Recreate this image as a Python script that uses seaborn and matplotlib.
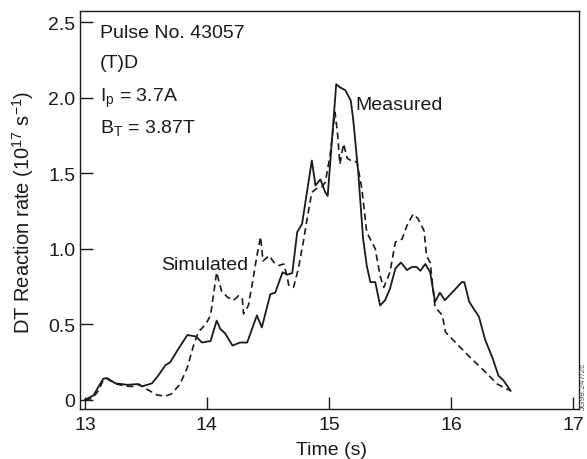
import pandas as pd
import matplotlib
matplotlib.use('Agg')
import matplotlib.pyplot as plt
import seaborn as sns

time_measured = [13.00, 13.07, 13.15, 13.18, 13.25, 13.35, 13.43, 13.47, 13.55, 13.60,
                 13.66, 13.70, 13.76, 13.84, 13.91, 13.96, 14.03, 14.08, 14.11, 14.15,
                 14.21, 14.27, 14.33, 14.41, 14.45, 14.52, 14.56, 14.62, 14.66, 14.70,
                 14.74, 14.78, 14.86, 14.89, 14.93, 14.97, 14.99, 15.06, 15.09, 15.135,
                 15.18, 15.20, 15.24, 15.28, 15.31, 15.34, 15.38, 15.42, 15.46, 15.50,
                 15.545, 15.59, 15.64, 15.68, 15.72, 15.75, 15.79, 15.83, 15.87, 15.91,
                 15.95, 16.09, 16.11, 16.15, 16.23, 16.28, 16.34, 16.39, 16.43, 16.49]
rate_measured = [0.00, 0.03, 0.14, 0.145, 0.11, 0.10, 0.105, 0.09, 0.11, 0.16,
                 0.23, 0.25, 0.33, 0.43, 0.42, 0.38, 0.39, 0.525, 0.47, 0.44,
                 0.36, 0.38, 0.38, 0.56, 0.48, 0.70, 0.71, 0.845, 0.83, 0.84,
                 1.11, 1.165, 1.585, 1.42, 1.46, 1.375, 1.35, 2.09, 2.07, 2.05,
                 1.98, 1.85, 1.51, 1.07, 0.89, 0.78, 0.78, 0.625, 0.66, 0.735,
                 0.87, 0.91, 0.86, 0.88, 0.88, 0.855, 0.90, 0.845, 0.65, 0.71,
                 0.66, 0.78, 0.78, 0.65, 0.55, 0.40, 0.28, 0.16, 0.13, 0.06]

time_simulated = [13.00, 13.06, 13.11, 13.15, 13.18, 13.26, 13.35, 13.41, 13.44, 13.51,
                  13.59, 13.66, 13.71, 13.78, 13.84, 13.89, 13.93, 13.99, 14.03, 14.08,
                  14.12, 14.17, 14.22, 14.26, 14.29, 14.30, 14.34, 14.37, 14.41, 14.44,
                  14.46, 14.51, 14.55, 14.59, 14.63, 14.66, 14.67, 14.71, 14.75, 14.79,
                  14.83, 14.86, 14.90, 14.94, 14.97, 15.01, 15.05, 15.07, 15.09, 15.12,
                  15.15, 15.18, 15.23, 15.27, 15.31, 15.38, 15.42, 15.45, 15.50, 15.545,
                  15.60, 15.64, 15.69, 15.73, 15.78, 15.80, 15.83, 15.87, 15.93, 15.955,
                  16.05, 16.16, 16.27, 16.38, 16.49]
rate_simulated = [0.00, 0.01, 0.06, 0.13, 0.14, 0.105, 0.09, 0.09, 0.105, 0.07,
                  0.033, 0.025, 0.04, 0.105, 0.215, 0.36, 0.45, 0.50, 0.56, 0.845,
                  0.72, 0.68, 0.66, 0.69, 0.67, 0.57, 0.625, 0.76, 0.955, 1.08,
                  0.92, 0.955, 0.91, 0.89, 0.90, 0.81, 0.76, 0.745, 0.87, 1.045,
                  1.24, 1.375, 1.40, 1.41, 1.44, 1.62, 1.905, 1.77, 1.56, 1.695,
                  1.60, 1.585, 1.575, 1.40, 1.11, 1.00, 0.82, 0.745, 0.845, 1.045,
                  1.065, 1.155, 1.23, 1.20, 1.12, 0.955, 0.91, 0.615, 0.56, 0.45,
                  0.37, 0.28, 0.195, 0.105, 0.06]

x_ticks = [13, 14, 15, 16, 17]
y_ticks = [0, 0.5, 1.0, 1.5, 2.0, 2.5]
y_tick_labels = ['0', '0.5', '1.0', '1.5', '2.0', '2.5']

sns.set_style('ticks')
plt.rcParams['font.family'] = ['Liberation Sans', 'DejaVu Sans']
plt.rcParams['mathtext.fontset'] = 'custom'
plt.rcParams['mathtext.rm'] = 'Liberation Sans'
plt.rcParams['mathtext.it'] = 'Liberation Sans'

ink = '#1a1a1a'

fig = plt.figure(figsize=(5.87, 4.6), dpi=100)
ax = fig.add_axes([0.1363, 0.1087, 0.8501, 0.8659])

meas = pd.DataFrame({'time': time_measured, 'rate': rate_measured})
sim = pd.DataFrame({'time': time_simulated, 'rate': rate_simulated})

sns.lineplot(data=meas, x='time', y='rate', ax=ax, color=ink, lw=1.3,
             estimator=None, sort=False)
sns.lineplot(data=sim, x='time', y='rate', ax=ax, color=ink, lw=1.2,
             estimator=None, sort=False)
ax.lines[-1].set_dashes((4, 2.5))

ax.set_xlim(12.96, 17.05)
ax.set_ylim(-0.06, 2.577)
ax.set_xticks(x_ticks)
ax.set_yticks(y_ticks)
ax.set_yticklabels(y_tick_labels)
ax.tick_params(direction='in', length=9, width=1, labelsize=14, colors=ink)
ax.tick_params(axis='x', pad=5)
ax.tick_params(axis='y', pad=3.5)
for s in ax.spines.values():
    s.set_linewidth(1)
    s.set_color(ink)

ax.set_xlabel('Time (s)', fontsize=14, color=ink)
ax.xaxis.set_label_coords(0.503, -0.08)
ax.set_ylabel('DT Reaction rate (10$^{17}$ s$^{-1}$)', fontsize=14.5, color=ink)
ax.yaxis.set_label_coords(-0.088, 0.495)

fs = 14
info_lines = [('Pulse No. 43057', 38), ('(T)D', 68),
              ('I$_\\mathrm{p}$ = 3.7A', 102), ('B$_\\mathrm{T}$ = 3.87T', 133)]
for txt, yb in info_lines:
    fig.text(100 / 587, 1 - yb / 460, txt, fontsize=fs, color=ink)

fig.text(355 / 587, 1 - 110 / 460, 'Measured', fontsize=fs, color=ink)
fig.text(161 / 587, 1 - 270 / 460, 'Simulated', fontsize=fs, color=ink)
fig.text(0.999, 1 - 410 / 460, 'JG98.247/2c', rotation=90, fontsize=6,
         color='#555555', ha='right', va='bottom')

fig.savefig('out.png', dpi=100)
